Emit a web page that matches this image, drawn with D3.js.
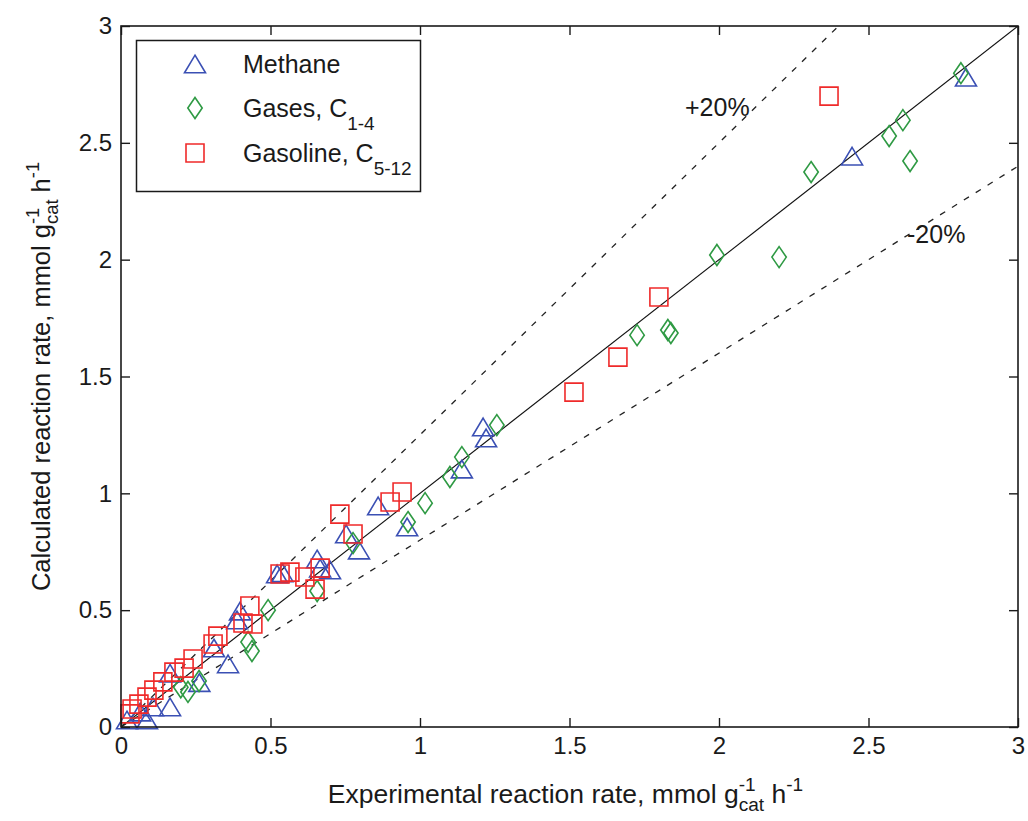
<!DOCTYPE html>
<html>
<head>
<meta charset="utf-8">
<script src="https://cdn.jsdelivr.net/npm/d3@7/dist/d3.min.js"></script>
<style>
  html, body { margin: 0; padding: 0; background: #fff; }
  svg { display: block; font-family: "Liberation Sans", Arial, Helvetica, sans-serif; }
</style>
</head>
<body>
<svg id="chart" width="1028" height="821"></svg>
<script>
// Parity data: experimental vs calculated reaction rates (mmol g_cat^-1 h^-1)
const methaneExp  = [2.826, 2.445, 1.211, 1.221, 1.140, 0.957, 0.860, 0.796, 0.753, 0.699, 0.666, 0.656, 0.522, 0.540, 0.398, 0.388, 0.358, 0.311, 0.262, 0.164, 0.164, 0.107, 0.087, 0.064, 0.020];
const methaneCalc = [2.781, 2.443, 1.284, 1.237, 1.104, 0.856, 0.946, 0.757, 0.826, 0.672, 0.680, 0.719, 0.655, 0.660, 0.496, 0.458, 0.270, 0.338, 0.190, 0.230, 0.086, 0.086, 0.030, 0.064, 0.030];

const gasesExp  = [2.809, 2.615, 2.569, 2.639, 2.308, 1.993, 2.201, 1.726, 1.829, 1.839, 1.257, 1.140, 1.100, 1.017, 0.960, 0.776, 0.656, 0.492, 0.425, 0.438, 0.261, 0.224, 0.200];
const gasesCalc = [2.798, 2.597, 2.529, 2.422, 2.375, 2.020, 2.011, 1.677, 1.699, 1.686, 1.292, 1.155, 1.070, 0.958, 0.877, 0.787, 0.582, 0.500, 0.364, 0.325, 0.197, 0.150, 0.170];

const gasolineExp  = [2.368, 1.799, 1.662, 1.515, 0.940, 0.900, 0.732, 0.776, 0.666, 0.649, 0.615, 0.565, 0.532, 0.431, 0.408, 0.441, 0.324, 0.308, 0.241, 0.211, 0.177, 0.140, 0.110, 0.087, 0.060, 0.037, 0.030];
const gasolineCalc = [2.700, 1.840, 1.583, 1.433, 1.006, 0.963, 0.911, 0.826, 0.680, 0.590, 0.642, 0.663, 0.655, 0.518, 0.445, 0.441, 0.389, 0.355, 0.291, 0.252, 0.235, 0.193, 0.158, 0.128, 0.098, 0.077, 0.056];

const tickValues = [0, 0.5, 1, 1.5, 2, 2.5, 3];
const tickLabels = ["0", "0.5", "1", "1.5", "2", "2.5", "3"];
const seriesNames = ["Methane", "Gases, C", "Gasoline, C"];
const seriesSubs = ["", "1-4", "5-12"];
const upperFactor = 1.25;   // +20 % band
const lowerFactor = 0.8;    // -20 % band

const svg = d3.select("#chart");
const W = 1028, H = 821;
const plot = { left: 121, right: 1018, top: 26, bottom: 727 };

svg.append("rect").attr("width", W).attr("height", H).attr("fill", "#fff");

const x = d3.scaleLinear().domain([0, 3]).range([plot.left, plot.right]);
const y = d3.scaleLinear().domain([0, 3]).range([plot.bottom, plot.top]);

const ink = "#1a1a1a";
const tickFont = 24;

// Reference lines: parity and ±20 % bands, clipped to the axes box
svg.append("clipPath").attr("id", "plotClip")
  .append("rect")
  .attr("x", plot.left).attr("y", plot.top)
  .attr("width", plot.right - plot.left).attr("height", plot.bottom - plot.top);

const lines = svg.append("g").attr("clip-path", "url(#plotClip)");
const lineGen = d3.line().x(d => x(d[0])).y(d => y(d[1]));
lines.append("path")
  .attr("d", lineGen([[0, 0], [3, 3]]))
  .attr("fill", "none").attr("stroke", "#111").attr("stroke-width", 1.1);
lines.append("path")
  .attr("d", lineGen([[0, 0], [3 / upperFactor, 3]]))
  .attr("fill", "none").attr("stroke", "#222").attr("stroke-width", 1.3)
  .attr("stroke-dasharray", "6,8");
lines.append("path")
  .attr("d", lineGen([[0, 0], [3, 3 * lowerFactor]]))
  .attr("fill", "none").attr("stroke", "#222").attr("stroke-width", 1.3)
  .attr("stroke-dasharray", "6,8");

// Marker shapes
const colors = { methane: "#3b50b4", gases: "#2f9a44", gasoline: "#ef2a2a" };
function trianglePath(cx, cy) {
  const w = 10.5, h = 8.8;
  return `M${cx},${cy - h}L${cx + w},${cy + h}L${cx - w},${cy + h}Z`;
}
function diamondPath(cx, cy) {
  const w = 7.2, h = 10.5;
  return `M${cx},${cy - h}L${cx + w},${cy}L${cx},${cy + h}L${cx - w},${cy}Z`;
}
function squarePath(cx, cy) {
  const s = 9;
  return `M${cx - s},${cy - s}H${cx + s}V${cy + s}H${cx - s}Z`;
}

const points = svg.append("g");
function drawSeries(xs, ys, shape, color) {
  const data = xs.map((v, i) => [v, ys[i]]);
  points.append("g").selectAll("path").data(data).join("path")
    .attr("d", d => shape(x(d[0]), y(d[1])))
    .attr("fill", "none").attr("stroke", color).attr("stroke-width", 1.6);
}
drawSeries(methaneExp, methaneCalc, trianglePath, colors.methane);
drawSeries(gasesExp, gasesCalc, diamondPath, colors.gases);
drawSeries(gasolineExp, gasolineCalc, squarePath, colors.gasoline);

// Axes with inward ticks on all four sides
function styleAxis(g) {
  g.select(".domain").remove();
  g.selectAll(".tick line").attr("stroke", ink).attr("stroke-width", 1.4);
  g.selectAll(".tick text").attr("fill", ink).attr("font-size", tickFont)
    .attr("font-family", "\"Liberation Sans\", Arial, sans-serif");
}
const fmt = (d) => tickLabels[tickValues.indexOf(d)];

svg.append("g").attr("transform", `translate(0,${plot.bottom})`)
  .call(d3.axisBottom(x).tickValues(tickValues).tickFormat(fmt).tickSizeInner(-9).tickSizeOuter(0).tickPadding(10))
  .call(styleAxis);
svg.append("g").attr("transform", `translate(${plot.left},0)`)
  .call(d3.axisLeft(y).tickValues(tickValues).tickFormat(fmt).tickSizeInner(-9).tickSizeOuter(0).tickPadding(9))
  .call(styleAxis);
svg.append("g").attr("transform", `translate(0,${plot.top})`)
  .call(d3.axisTop(x).tickValues(tickValues).tickFormat("").tickSizeInner(-9).tickSizeOuter(0))
  .call(styleAxis);
svg.append("g").attr("transform", `translate(${plot.right},0)`)
  .call(d3.axisRight(y).tickValues(tickValues).tickFormat("").tickSizeInner(-9).tickSizeOuter(0))
  .call(styleAxis);

svg.append("rect")
  .attr("x", plot.left).attr("y", plot.top)
  .attr("width", plot.right - plot.left).attr("height", plot.bottom - plot.top)
  .attr("fill", "none").attr("stroke", ink).attr("stroke-width", 1.6);

// Axis titles with stacked super/subscripts: "... g_cat^-1 h^-1"
function unitTitle(g, base, size) {
  const small = size * 0.72;
  let cursor = 0;
  const addText = (str, fs, dy) => {
    const t = g.append("text").attr("x", cursor).attr("y", dy)
      .attr("font-size", fs).attr("fill", ink).attr("xml:space", "preserve").text(str);
    return t.node().getComputedTextLength();
  };
  cursor += addText(base + " g", size, 0);
  const wSup = addText("-1", small, -size * 0.45);
  const wSub = addText("cat", small, size * 0.32);
  cursor += Math.max(wSup, wSub);
  cursor += addText(" h", size, 0);
  cursor += addText("-1", small, -size * 0.45);
  return cursor;
}

const xTitle = svg.append("g");
const xw = unitTitle(xTitle, "Experimental reaction rate, mmol", 26.5);
xTitle.attr("transform", `translate(${(plot.left + plot.right) / 2 - xw / 2 - 4},803)`);

const yTitle = svg.append("g");
const yw = unitTitle(yTitle, "Calculated reaction rate, mmol", 25.5);
yTitle.attr("transform", `translate(50,${(plot.top + plot.bottom) / 2 + yw / 2}) rotate(-90)`);

// Band annotations
svg.append("text").attr("x", 685).attr("y", 116).attr("font-size", 25).attr("fill", ink).text("+20%");
svg.append("text").attr("x", 907).attr("y", 243).attr("font-size", 25).attr("fill", ink).text("-20%");

// Legend
const legend = svg.append("g");
legend.append("rect")
  .attr("x", 136.5).attr("y", 40.5).attr("width", 284).attr("height", 151)
  .attr("fill", "#fff").attr("stroke", ink).attr("stroke-width", 1.5);
const legendShapes = [trianglePath, diamondPath, squarePath];
const legendColors = [colors.methane, colors.gases, colors.gasoline];
const legendRowY = [64, 108, 153];
seriesNames.forEach((name, i) => {
  legend.append("path")
    .attr("d", legendShapes[i](195, legendRowY[i]))
    .attr("fill", "none").attr("stroke", legendColors[i]).attr("stroke-width", 1.6);
  const t = legend.append("text").attr("x", 243).attr("y", legendRowY[i] + 9)
    .attr("font-size", 25).attr("fill", ink);
  t.append("tspan").text(name);
  if (seriesSubs[i]) {
    t.append("tspan").attr("dy", 13).attr("font-size", 19).text(seriesSubs[i]);
  }
});
</script>
</body>
</html>
